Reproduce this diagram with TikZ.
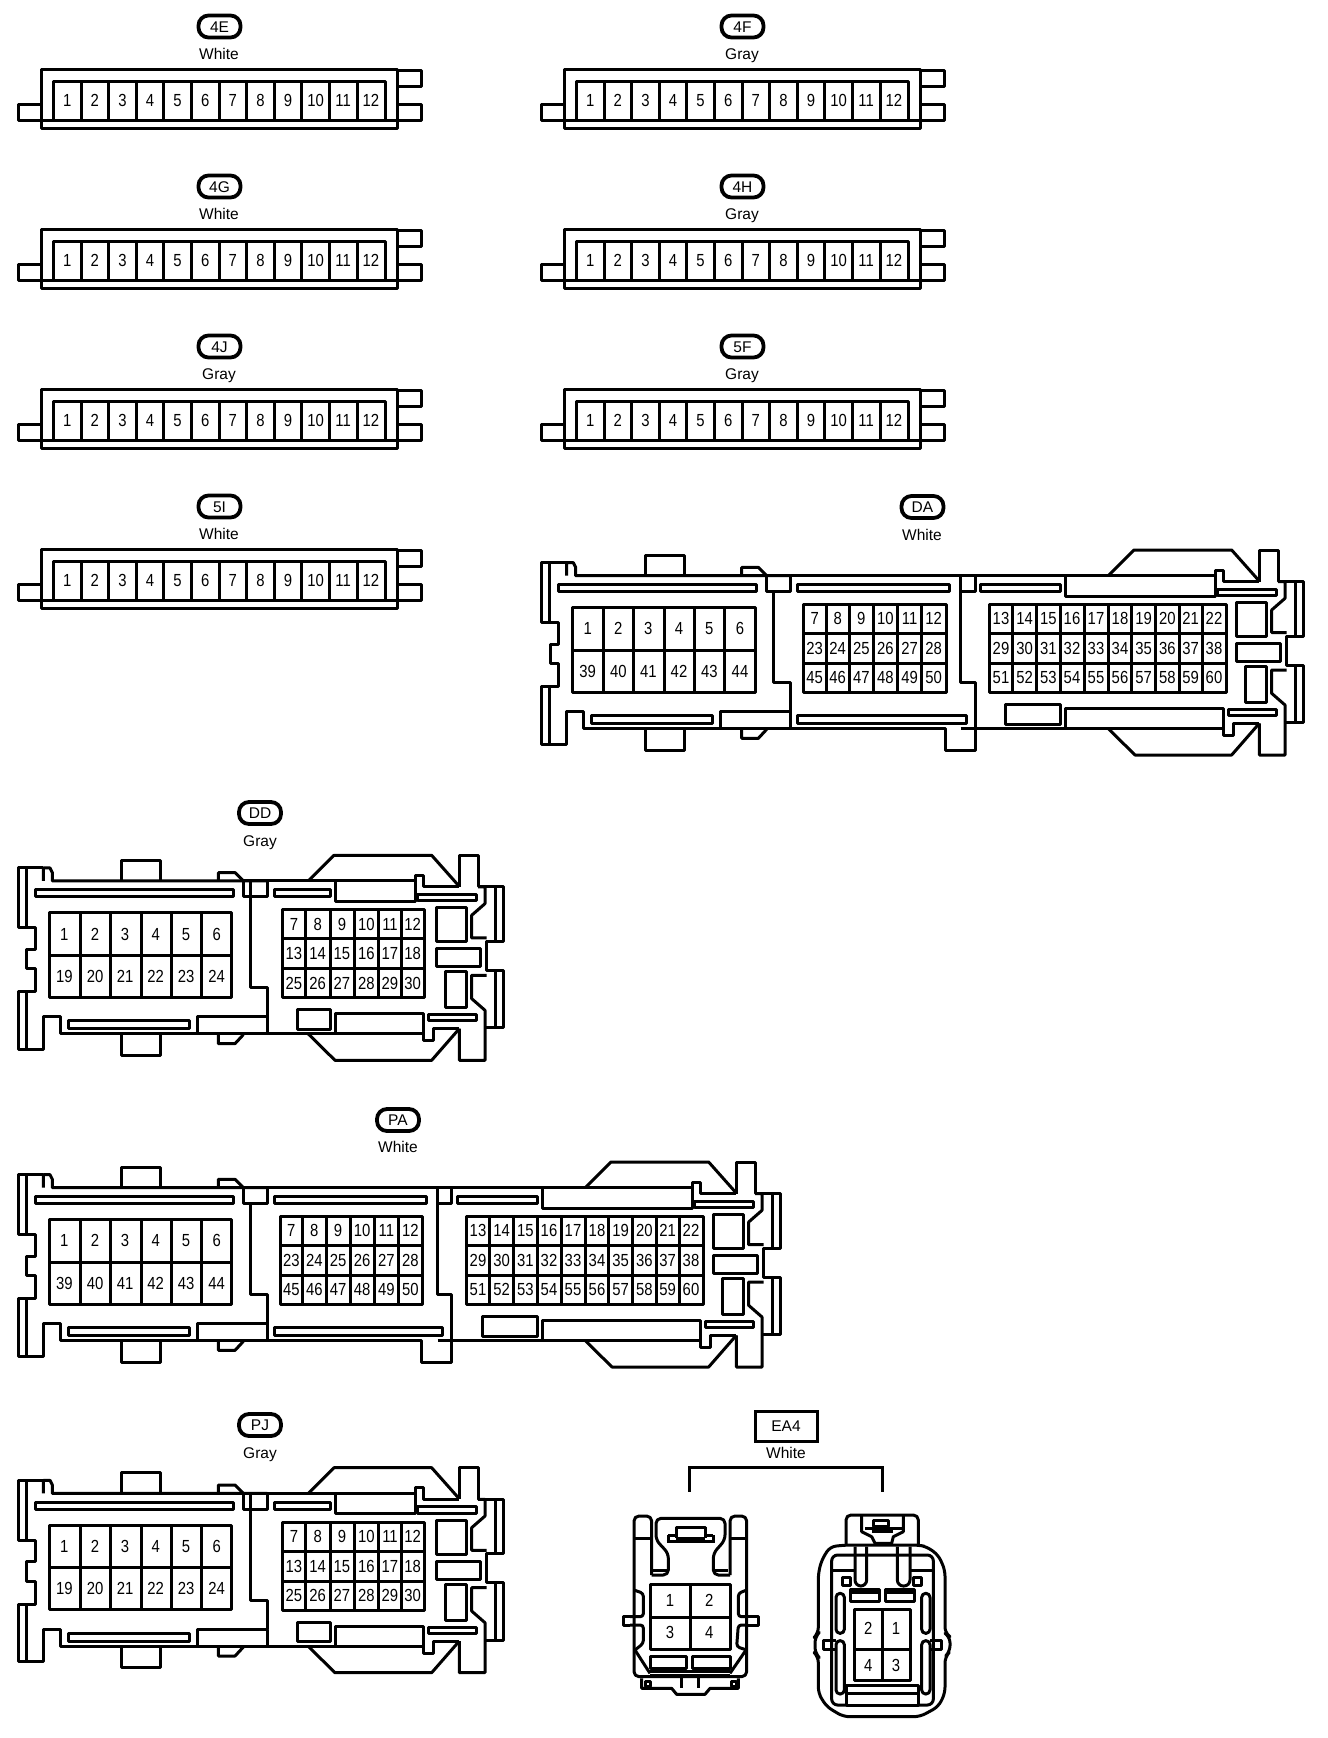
\documentclass[tikz,border=0pt]{standalone}
\usepackage{fontspec}
\setmainfont{Liberation Sans}
\newfontfamily\pinfont[FakeStretch=0.85]{Liberation Sans}
\usetikzlibrary{positioning}
\tikzset{
  wall/.style = {line width = 3pt, line join = round},
  pinlabel/.style = {inner sep = 0, text height = 12.5pt, text depth = 0pt,
    font = \pinfont\fontsize{17.5}{18}\selectfont},
  tagpill/.style = {draw, line width = 3.8pt, rounded corners = 10pt, minimum width = 42pt,
    minimum height = 22pt, inner sep = 0, text height = 11pt, text depth = 0pt,
    font = \fontsize{15.5}{16}\selectfont},
  tagbox/.style = {draw, line width = 3pt, minimum width = 62pt, minimum height = 30pt,
    inner sep = 0, text height = 11pt, text depth = 0pt, font = \fontsize{15.5}{16}\selectfont},
  colourlabel/.style = {inner sep = 0, text height = 11pt, text depth = 3.5pt,
    font = \fontsize{15.5}{16}\selectfont},
  zoomed/.style = {x = 0.33333pt, y = -0.33333pt}
}
% block of pins: left, top, right, bottom, inner x lines, inner y lines
\newcommand{\pinblock}[6]{
  \draw[wall] (#1,#2) rectangle (#3,#4);
  \foreach \dx in {#5}{\draw[wall] (\dx,#2) -- (\dx,#4);}
  \foreach \dy in {#6}{\draw[wall] (#1,\dy) -- (#3,\dy);}
}
% row of pin numbers: name, y, x/number list
\newcommand{\pinrow}[3]{
  \foreach \cx/\n in {#3}{\node[pinlabel] (#1p\n) at (\cx,#2) {\n};}
}
% left third of the big connectors
\newcommand{\leftpart}[2]{
  \draw[wall] (110,257) -- (110,218) -- (130,218) -- (137,232) -- (137,257) -- (782,257);
  \draw[wall] (110,218) -- (35,218) -- (35,398) -- (85,398) -- (85,462) -- (60,462) -- (60,520)
    -- (85,520) -- (85,590) -- (35,590) -- (35,762) -- (110,762) -- (110,665) -- (160,665)
    -- (160,716) -- (782,716);
  \draw[wall] (58,218) -- (58,398) (58,590) -- (58,762);
  \draw[wall] (345,257) -- (345,195) -- (462,195) -- (462,257);
  \draw[wall] (345,716) -- (345,780) -- (462,780) -- (462,716);
  \draw[wall] (635,257) -- (635,232) -- (685,232) -- (710,257);
  \draw[wall] (635,716) -- (635,745) -- (685,745) -- (710,718);
  \draw[wall] (85,283) rectangle (680,305);
  \draw[wall] (185,677) rectangle (548,700);
  \draw[wall] (572,665) rectangle (782,716);
  \draw[wall] (710,257) rectangle (782,305);
  \draw[wall] (730,305) -- (730,577) -- (782,577) -- (782,665);
  \pinblock{127}{352}{675}{606}{220,310,403,493,584}{480}
  \pinrow{#1}{416}{173/1,265/2,355/3,447/4,538/5,630/6}
  \pinrow{#1}{543}{#2}
}
% middle third, only on the 60 pin connectors
\newcommand{\midpart}[1]{
  \draw[wall] (782,257) -- (1335,257);
  \draw[wall] (782,716) -- (1245,716) -- (1245,782) -- (1335,782) -- (1335,577) -- (1292,577) -- (1292,257);
  \draw[wall] (1292,303) -- (1335,303) -- (1335,257);
  \draw[wall] (803,283) rectangle (1258,305);
  \draw[wall] (803,677) rectangle (1308,700);
  \pinblock{820}{343}{1248}{607}{888,958,1030,1103,1175}{430,520}
  \pinrow{#1}{386}{854/7,923/8,994/9,1066/10,1139/11,1211/12}
  \pinrow{#1}{475}{854/23,923/24,994/25,1066/26,1139/27,1211/28}
  \pinrow{#1}{563}{854/45,923/46,994/47,1066/48,1139/49,1211/50}
}
% right end: line start, slot left, rect left, box left
\newcommand{\tailpart}[4]{
  \draw[wall] (#1,257) -- (825,257);
  \draw[wall] (#3,257) -- (#3,318) -- (825,318) -- (825,240) -- (850,240) -- (850,275) -- (958,275);
  \draw[wall] (505,257) -- (582,180) -- (875,180) -- (955,270);
  \draw[wall] (958,275) -- (958,180) -- (1014,180) -- (1014,275) -- (1090,275) -- (1090,438) -- (1040,438)
    -- (1040,525) -- (1090,525) -- (1090,697) -- (1035,697);
  \draw[wall] (1014,275) -- (1035,275) -- (1035,325) -- (995,360) -- (995,428) -- (1040,428);
  \draw[wall] (1040,540) -- (995,540) -- (995,610) -- (1035,645) -- (1035,795) -- (958,795) -- (958,700);
  \draw[wall] (1065,275) -- (1065,438) (1065,525) -- (1065,697);
  \draw[wall] (832,297) rectangle (1008,317);
  \draw[wall] (865,658) rectangle (1008,677);
  \draw[wall] (890,337) rectangle (978,440);
  \draw[wall] (890,460) rectangle (1020,515);
  \draw[wall] (915,530) rectangle (978,638);
  \draw[wall] (#1,716) -- (850,716);
  \draw[wall] (#3,716) -- (#3,655) -- (850,655) -- (850,737) -- (880,737) -- (880,700) -- (958,700);
  \draw[wall] (505,716) -- (585,795) -- (875,795) -- (958,700);
  \draw[wall] (#2,283) rectangle (\slotend,305);
  \draw[wall] (#4,643) rectangle (\slotend,702);
}
\begin{document}
\begin{tikzpicture}[x = 1pt, y = -1pt]
\fill[white] (0,0) rectangle (1328,1738);

%% twelve pin connectors
\foreach \nm/\clr/\ox/\oy in {4E/White/0/0, 4F/Gray/523/0, 4G/White/0/160, 4H/Gray/523/160,
    4J/Gray/0/320, 5F/Gray/523/320, 5I/White/0/480}{
  \begin{scope}[shift = {(\ox,\oy)}]
    \node[tagpill] (tag\nm) at (219.5,26.5) {\nm};
    \node[colourlabel] (col\nm) at (219,55.5) {\clr};
    \draw[wall] (41,69) rectangle (397,128);
    \draw[wall] (41,120) -- (397,120);
    \draw[wall] (53,120) -- (53,81) -- (385,81) -- (385,120);
    \draw[wall] (41,104) -- (18,104) -- (18,120) -- (41,120);
    \draw[wall] (397,70) -- (421,70) -- (421,86) -- (397,86);
    \draw[wall] (397,104) -- (421,104) -- (421,120) -- (397,120);
    \foreach \i in {1,...,11}{\draw[wall] (53.4+27.6*\i,81) -- (53.4+27.6*\i,120);}
    \foreach \i in {1,...,12}{\node[pinlabel] (\nm p\i) at (53.4+27.6*\i-13.8,100) {\i};}
  \end{scope}
}

%% DA
\node[tagpill] (tagDA) at (922.5,507) {DA};
\node[colourlabel] (colDA) at (922,537) {White};
\begin{scope}[shift = {(530,490)}, zoomed]
  \leftpart{DA}{173/39,265/40,355/41,447/42,538/43,630/44}
  \midpart{DA}
\end{scope}
\begin{scope}[shift = {(940,490)}, zoomed]
  \def\slotend{360}
  \tailpart{62}{120}{375}{195}
  \pinblock{148}{343}{858}{607}{218,290,360,432,505,575,647,717,787}{430,520}
  \pinrow{DA}{386}{183/13,254/14,325/15,396/16,468/17,540/18,611/19,682/20,752/21,822/22}
  \pinrow{DA}{475}{183/29,254/30,325/31,396/32,468/33,540/34,611/35,682/36,752/37,822/38}
  \pinrow{DA}{563}{183/51,254/52,325/53,396/54,468/55,540/56,611/57,682/58,752/59,822/60}
\end{scope}

%% DD and PJ
\foreach \nm/\clr/\oy/\tagy in {DD/Gray/795.3/813, PJ/Gray/1407.7/1425}{
  \node[tagpill] (tag\nm) at (260,\tagy) {\nm};
  \node[colourlabel] (col\nm) at (260,\tagy+30) {\clr};
  \begin{scope}[shift = {(6.7,\oy)}, zoomed]
    \leftpart{\nm}{173/19,265/20,355/21,447/22,538/23,630/24}
    \draw[wall] (730,257) -- (730,305);
  \end{scope}
  \begin{scope}[shift = {(140,\oy)}, zoomed]
    \def\slotend{570}
    \tailpart{362}{403}{585}{473}
    \pinblock{427}{343}{852}{607}{497,570,643,715,785}{430,520}
    \pinrow{\nm}{386}{462/7,533/8,606/9,679/10,750/11,818/12}
    \pinrow{\nm}{475}{462/13,533/14,606/15,679/16,750/17,818/18}
    \pinrow{\nm}{563}{462/25,533/26,606/27,679/28,750/29,818/30}
  \end{scope}
}

%% PA
\node[tagpill] (tagPA) at (398,1120) {PA};
\node[colourlabel] (colPA) at (398,1148.5) {White};
\begin{scope}[shift = {(6.7,1102)}, zoomed]
  \leftpart{PA}{173/39,265/40,355/41,447/42,538/43,630/44}
  \midpart{PA}
\end{scope}
\begin{scope}[shift = {(417,1102)}, zoomed]
  \def\slotend{360}
  \tailpart{62}{120}{375}{195}
  \pinblock{148}{343}{858}{607}{218,290,360,432,505,575,647,717,787}{430,520}
  \pinrow{PA}{386}{183/13,254/14,325/15,396/16,468/17,540/18,611/19,682/20,752/21,822/22}
  \pinrow{PA}{475}{183/29,254/30,325/31,396/32,468/33,540/34,611/35,682/36,752/37,822/38}
  \pinrow{PA}{563}{183/51,254/52,325/53,396/54,468/55,540/56,611/57,682/58,752/59,822/60}
\end{scope}

%% EA4
\node[tagbox] (tagEA) at (786,1426) {EA4};
\node[colourlabel] (colEA) at (786,1454.5) {White};
\begin{scope}[shift = {(600,1410)}, zoomed]
  \coordinate (brL) at (268,245);
  \coordinate (brR) at (848,245);
  \draw[line width = 3.2pt] (brL) -- (268,172) -- (848,172) -- (brR);

  % latch side
  \draw[wall, rounded corners = 5pt] (155,495) -- (155,318) -- (102,318) -- (102,800) -- (440,800) -- (440,318) -- (390,318) -- (390,495);
  \draw[wall, rounded corners = 5pt] (155,495) -- (205,495) -- (205,430) -- (168,390) -- (168,325) -- (375,325) -- (375,390) -- (340,430) -- (340,495) -- (390,495);
  \draw[wall] (205,375) -- (228,375) -- (228,352) -- (315,352) -- (315,375) -- (340,375);
  \draw[wall] (200,395) -- (345,395);
  \draw[wall] (205,375) -- (205,395) (340,375) -- (340,395);
  \draw[wall] (228,385) -- (315,385) (228,352) -- (228,385) (315,352) -- (315,385);
  \draw[wall] (160,480) -- (200,480) (345,480) -- (385,480);
  \draw[wall] (102,385) -- (155,385) (390,385) -- (440,385);
  \draw[wall, rounded corners = 3pt] (102,540) -- (130,550) -- (130,620) -- (90,620);
  \draw[wall] (90,620) -- (70,620) -- (70,645) -- (90,645);
  \draw[wall, rounded corners = 3pt] (90,645) -- (130,645) -- (130,700) -- (105,720);
  \draw[wall] (105,720) -- (150,790);
  \draw[wall, rounded corners = 3pt] (440,540) -- (415,550) -- (415,620) -- (440,620);
  \draw[wall] (440,620) -- (475,620) -- (475,645) -- (440,645);
  \draw[wall, rounded corners = 3pt] (440,645) -- (415,645) -- (410,710) -- (440,720);
  \draw[wall] (438,720) -- (390,790);
  \pinblock{150}{524}{390}{717}{270}{622}
  \pinrow{EAl}{572}{210/1,328/2}
  \pinrow{EAl}{666}{210/3,328/4}
  \draw[wall] (150,740) rectangle (260,775);
  \draw[wall] (278,740) rectangle (390,775);
  \draw[wall] (150,785) -- (390,785) (150,795) -- (390,795);
  \draw[wall] (125,805) -- (125,835) -- (215,835) -- (230,853) -- (315,853) -- (330,835) -- (415,835) -- (415,805);
  \draw[wall] (245,805) -- (245,835) (295,805) -- (295,835);
  \draw[wall] (135,815) rectangle (152,830);
  \draw[wall] (393,815) rectangle (410,830);

  % housing side
  \draw[wall, rounded corners = 6pt] (738,405) -- (690,410) -- (665,450) -- (655,490) -- (655,670)
    -- (645,680) -- (645,730) -- (655,740) -- (655,850) -- (680,890) -- (730,920) -- (960,920)
    -- (1015,890) -- (1035,850) -- (1035,740) -- (1050,725) -- (1050,680) -- (1035,670) -- (1035,480)
    -- (1015,435) -- (980,410) -- (955,405) -- cycle;
  \draw[wall, rounded corners = 5pt] (738,405) -- (738,315) -- (955,315) -- (955,405);
  \draw[wall] (785,315) -- (785,365) -- (815,380) -- (825,400) -- (875,400) -- (880,380) -- (910,365) -- (910,315);
  \draw[wall] (795,355) -- (905,355) (815,365) -- (880,365);
  \draw[wall] (820,330) rectangle (865,350);
  \draw[wall, rounded corners = 6pt] (740,885) -- (695,885) -- (695,435) -- (1000,435) -- (1000,885) -- (955,885);
  \draw[wall] (695,480) -- (765,480) (930,480) -- (1000,480);
  \draw[wall, rounded corners = 6pt] (765,410) -- (765,528) -- (800,528) -- (800,410);
  \draw[wall, rounded corners = 6pt] (892,410) -- (892,528) -- (930,528) -- (930,410);
  \draw[wall] (728,502) rectangle (752,525);
  \draw[wall] (940,502) rectangle (965,525);
  \draw[wall] (750,538) rectangle (838,575);
  \draw[wall] (857,538) rectangle (943,575);
  \draw[wall] (750,548) -- (838,548) (857,548) -- (943,548);
  \foreach \ox in {708,965}{
    \draw[wall, rounded corners = 4pt] (\ox,550) rectangle (\ox+25,670);
    \draw[wall, rounded corners = 4pt] (\ox,692) rectangle (\ox+25,852);
  }
  \draw[wall] (708,692) -- (670,692) -- (670,718) -- (708,718);
  \draw[wall] (990,692) -- (1025,692) -- (1025,718) -- (990,718);
  \pinblock{763}{597}{930}{812}{847}{718}
  \pinrow{EAr}{655}{805/2,888/1}
  \pinrow{EAr}{765}{805/4,888/3}
  \draw[wall] (738,825) rectangle (955,885);
  \draw[wall] (738,850) -- (955,850);
\end{scope}
\end{tikzpicture}
\end{document}
